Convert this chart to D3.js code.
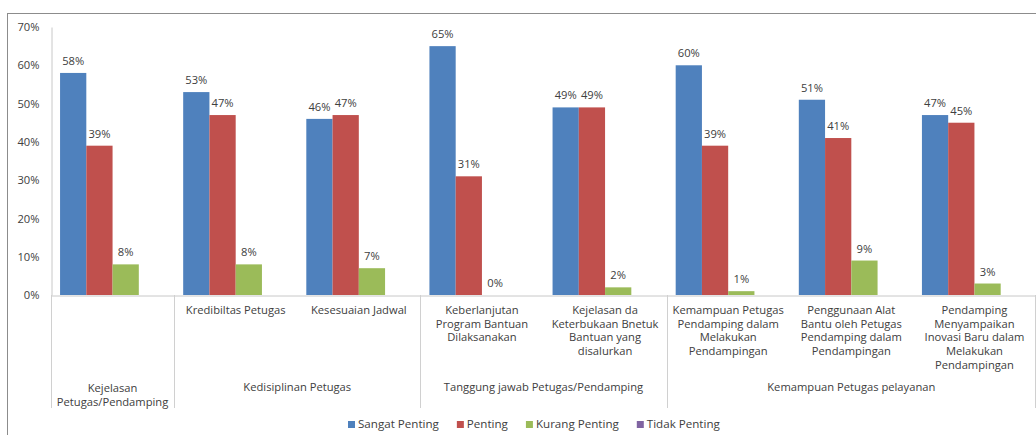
<!DOCTYPE html>
<html>
<head>
<meta charset="utf-8">
<script src="https://cdn.jsdelivr.net/npm/d3@7"></script>
<style>
  html, body { margin: 0; padding: 0; background: #fff; }
  svg { display: block; }
  text { font-family: "Open Sans", Lato, sans-serif; fill: #404040; }
</style>
</head>
<body>
<svg id="chart" width="1036" height="435"></svg>
<script>
// ---- data ----
const categories = [
  "Kejelasan\nPetugas/Pendamping",
  "Kredibiltas Petugas",
  "Kesesuaian Jadwal",
  "Keberlanjutan\nProgram Bantuan\nDilaksanakan",
  "Kejelasan da\nKeterbukaan Bnetuk\nBantuan yang\ndisalurkan",
  "Kemampuan Petugas\nPendamping dalam\nMelakukan\nPendampingan",
  "Penggunaan Alat\nBantu oleh Petugas\nPendamping dalam\nPendampingan",
  "Pendamping\nMenyampaikan\nInovasi Baru dalam\nMelakukan\nPendampingan"
];
const groupNames = ["", "Kedisiplinan Petugas", "Tanggung jawab Petugas/Pendamping", "Kemampuan Petugas pelayanan"];
const groupStart = [0, 1, 3, 5];
const groupEnd   = [0, 2, 4, 7];
const seriesNames = ["Sangat Penting", "Penting", "Kurang Penting", "Tidak Penting"];
const sangatPenting = [58, 53, 46, 65, 49, 60, 51, 47];
const penting       = [39, 47, 47, 31, 49, 39, 41, 45];
const kurangPenting = [8, 8, 7, 0, 2, 1, 9, 3];
const tidakPenting  = [0, 0, 0, 0, 0, 0, 0, 0];
const showLabel     = [true, true, true, false];
const colors = ["#4F81BD", "#C0504D", "#9BBB59", "#8064A2"];
const yTicks = [0, 10, 20, 30, 40, 50, 60, 70];

const seriesValues = [sangatPenting, penting, kurangPenting, tidakPenting];
const FS = 11.2;
const FF = "'Open Sans', Lato, sans-serif";

const svg = d3.select("#chart");

// chart frame
svg.append("rect").attr("x", 7.5).attr("y", 13.5).attr("width", 1060).attr("height", 440)
  .attr("fill", "none").attr("stroke", "#8c8c8c").attr("stroke-width", 1);

const pLeft = 51, pRight = 1036, pTop = 27, pBottom = 295;

const x0 = d3.scaleBand().domain(d3.range(categories.length)).range([pLeft, pRight]).padding(0);
const x1 = d3.scaleBand().domain(d3.range(seriesNames.length)).range([0, x0.bandwidth()])
  .paddingInner(0).paddingOuter(0.345);
const y = d3.scaleLinear().domain([0, 70]).range([pBottom, pTop]);

// y axis
const yAxis = svg.append("g").attr("transform", `translate(${pLeft + 0.5},0)`)
  .call(d3.axisLeft(y).tickValues(yTicks).tickSize(0).tickPadding(12).tickFormat(d => d + "%"));
yAxis.select(".domain").attr("stroke", "#c8c8c8");
yAxis.selectAll(".tick text").attr("font-size", FS).attr("fill", "#404040")
  .style("font-family", FF);

// bars
const cats = svg.append("g");
seriesNames.forEach((s, si) => {
  const g = cats.append("g");
  g.selectAll("rect").data(seriesValues[si]).join("rect")
    .attr("x", (d, i) => x0(i) + x1(si))
    .attr("y", d => y(d))
    .attr("width", x1.bandwidth())
    .attr("height", d => y(0) - y(d))
    .attr("fill", colors[si]);
  if (showLabel[si]) {
    g.selectAll("text").data(seriesValues[si]).join("text")
      .attr("x", (d, i) => x0(i) + x1(si) + x1.bandwidth() / 2)
      .attr("y", d => y(d) - 8)
      .attr("text-anchor", "middle")
      .attr("font-size", FS)
      .text(d => d + "%");
  }
});

// x axis baseline
const xAxis = svg.append("g").attr("transform", `translate(0,${pBottom + 0.5})`)
  .call(d3.axisBottom(x0).tickSize(0).tickFormat(""));
xAxis.select(".domain").attr("stroke", "#c8c8c8");

// group separators
const sepX = [pLeft].concat(groupEnd.map(e => x0(e) + x0.bandwidth()));
svg.append("g").selectAll("line").data(sepX).join("line")
  .attr("x1", d => Math.min(Math.round(d), pRight - 1) + 0.5)
  .attr("x2", d => Math.min(Math.round(d), pRight - 1) + 0.5)
  .attr("y1", pBottom).attr("y2", 408)
  .attr("stroke", "#d0d0d0");

// category labels
const lh = 13.7;
categories.forEach((c, i) => {
  const lines = c.split("\n");
  const gIdx = groupStart.findIndex((s, gi) => i >= s && i <= groupEnd[gi]);
  const inGroup = groupNames[gIdx] !== "";
  const cx = x0(i) + x0.bandwidth() / 2;
  const y0 = inGroup ? 310 : 388;
  const t = svg.append("text").attr("text-anchor", "middle").attr("font-size", FS);
  lines.forEach((ln, li) => {
    t.append("tspan").attr("x", cx).attr("y", y0 + li * lh + 4).text(ln);
  });
});

// group labels
groupNames.forEach((gname, gi) => {
  if (!gname) return;
  const cx = (x0(groupStart[gi]) + x0(groupEnd[gi]) + x0.bandwidth()) / 2;
  svg.append("text").attr("x", cx).attr("y", 387 + 4).attr("text-anchor", "middle")
    .attr("font-size", FS).text(gname);
});

// legend
const legend = svg.append("g");
let lx = 348;
seriesNames.forEach((s, si) => {
  legend.append("rect").attr("x", lx).attr("y", 421).attr("width", 7).attr("height", 7).attr("fill", colors[si]);
  const t = legend.append("text").attr("x", lx + 10).attr("y", 424 + 4).attr("font-size", 11.6).text(s);
  lx += 10 + t.node().getComputedTextLength() + 18;
});
</script>
</body>
</html>
